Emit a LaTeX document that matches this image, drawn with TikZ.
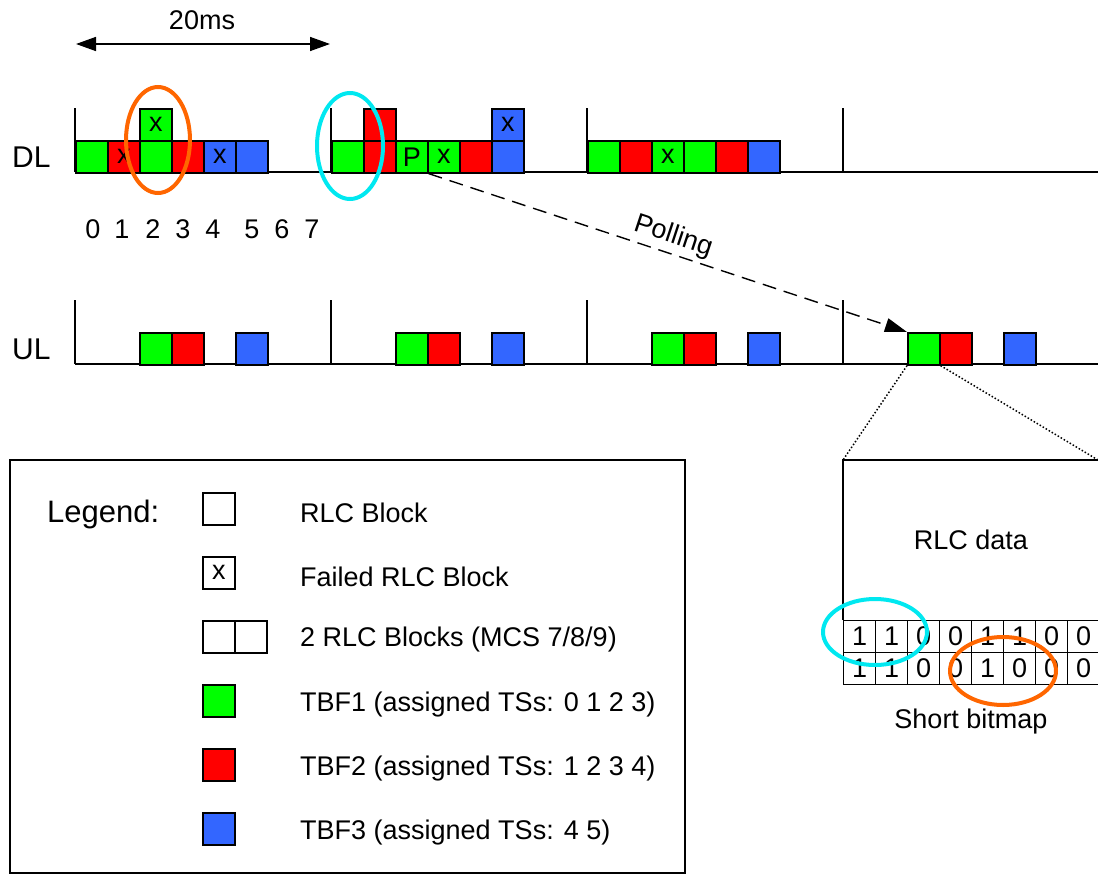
\documentclass[tikz,border=0pt]{standalone}
\usepackage{fontspec}
\setmainfont{Liberation Sans}
\usetikzlibrary{arrows.meta}

\definecolor{tbfone}{RGB}{0,255,0}
\definecolor{tbftwo}{RGB}{255,0,0}
\definecolor{tbfthree}{RGB}{51,102,255}
\definecolor{ringorange}{RGB}{255,102,0}
\definecolor{ringcyan}{RGB}{0,232,240}

\tikzset{
  blk/.style={draw, line width=1.6pt, minimum width=32pt, minimum height=32pt, inner sep=0pt, anchor=north west},
  cell/.style={blk, line width=1.3pt},
  axis/.style={line width=1.6pt},
  ring/.style={draw=#1, line width=4pt},
  txt/.style={anchor=west, inner sep=0pt},
  tip/.style={-{Triangle[length=22pt,width=14pt]}},
}

\begin{document}
\begin{tikzpicture}[x=1pt, y=-1pt, font=\fontsize{27}{32}\selectfont]
  \useasboundingbox (0,0) rectangle (1098,875);
  \clip (0,0) rectangle (1098,875);

  % 20ms span
  \coordinate (spanl) at (76,44);
  \coordinate (spanr) at (330,44);
  \draw[line width=1.5pt, {Triangle[length=20pt,width=14pt]}-{Triangle[length=20pt,width=14pt]}] (spanl) -- (spanr);
  \node (span) at (202,20) {20ms};

  \node[txt, font=\fontsize{30}{36}\selectfont] (dl) at (12,157) {DL};
  \node[txt, font=\fontsize{30}{36}\selectfont] (ul) at (12,349) {UL};

  % frame grid
  \foreach \x in {75,331,587,843} {
    \draw[axis] (\x,108) -- (\x,172);
    \draw[axis] (\x,300) -- (\x,364);
  }
  \draw[axis] (75,172) -- (1098,172);
  \draw[axis] (75,364) -- (1098,364);

  % downlink blocks
  \foreach \c/\t [count=\i from 0] in {tbfone/{},tbftwo/x,tbfone/{},tbftwo/{},tbfthree/x,tbfthree/{}}
    \node[blk, fill=\c] (dla\i) at (75+32*\i,140) {\t};
  \node[blk, fill=tbfone] (dlat) at (139,108) {x};

  \foreach \c/\t [count=\i from 0] in {tbfone/{},tbftwo/{},tbfone/P,tbfone/x,tbftwo/{},tbfthree/{}}
    \node[blk, fill=\c] (dlb\i) at (331+32*\i,140) {\t};
  \node[blk, fill=tbftwo] (dlbr) at (363,108) {};
  \node[blk, fill=tbfthree] (dlbb) at (491,108) {x};

  \foreach \c/\t [count=\i from 0] in {tbfone/{},tbftwo/{},tbfone/x,tbfone/{},tbftwo/{},tbfthree/{}}
    \node[blk, fill=\c] (dlc\i) at (587+32*\i,140) {\t};

  \foreach \n/\x in {0/93,1/122,2/153,3/183,4/213,5/252,6/282,7/312}
    \node (ts\n) at (\x,229) {\n};

  % uplink blocks
  \foreach \f in {0,...,3} {
    \node[blk, fill=tbfone] (ulg\f) at (139+256*\f,332) {};
    \node[blk, fill=tbftwo] (ulr\f) at (171+256*\f,332) {};
    \node[blk, fill=tbfthree] (ulb\f) at (235+256*\f,332) {};
  }

  \draw[ring=ringorange] (158,140) ellipse [x radius=32pt, y radius=53pt];
  \draw[ring=ringcyan] (350,146) ellipse [x radius=33pt, y radius=53pt];

  \draw[tip, line width=1.4pt, dash pattern=on 14pt off 8pt] (dlb2.south east) -- node[sloped, above, inner sep=4pt] (poll) {Polling} (ulg3.north west);

  % zoomed uplink block
  \coordinate (zooml) at (843,460);
  \coordinate (zoomr) at (1098,460);
  \draw[dotted, line width=1.5pt] (ulg3.south west) -- (zooml);
  \draw[dotted, line width=1.5pt] (ulg3.south east) -- (zoomr);
  \draw[axis] (zoomr) -- (zooml) -- (843,620);
  \node (rlcdata) at (971,540) {RLC data};

  \foreach \b [count=\i from 0] in {1,1,0,0,1,1,0,0}
    \node[cell] (bma\i) at (843+32*\i,620) {\b};
  \foreach \b [count=\i from 0] in {1,1,0,0,1,0,0,0}
    \node[cell] (bmb\i) at (843+32*\i,652) {\b};
  \node (bitmap) at (971,722) {Short bitmap};

  \draw[ring=ringcyan] (875,632) ellipse [x radius=52pt, y radius=33pt];
  \draw[ring=ringorange] (1003,671) ellipse [x radius=53pt, y radius=34pt];

  % legend
  \draw[line width=2pt] (10,460) rectangle (685,873);
  \node[txt, font=\fontsize{31}{36}\selectfont] (legend) at (47,514) {Legend:};
  \node[blk] (lgplain) at (202,492) {};
  \node[blk] (lgfail) at (202,556) {x};
  \node[blk] (lgdbla) at (202,620) {};
  \node[blk] (lgdblb) at (234,620) {};
  \node[blk, fill=tbfone] (lgone) at (202,684) {};
  \node[blk, fill=tbftwo] (lgtwo) at (202,748) {};
  \node[blk, fill=tbfthree] (lgthree) at (202,812) {};
  \node[txt] (lgplaint) at (300,513) {RLC Block};
  \node[txt] (lgfailt) at (300,577) {Failed RLC Block};
  \node[txt] (lgdblt) at (300,640) {2 RLC Blocks (MCS 7/8/9)};
  \node[txt] (lgonet) at (300,705) {TBF1 (assigned TSs: 0 1 2 3)};
  \node[txt] (lgtwot) at (300,769) {TBF2 (assigned TSs: 1 2 3 4)};
  \node[txt] (lgthreet) at (300,833) {TBF3 (assigned TSs: 4 5)};
\end{tikzpicture}
\end{document}
